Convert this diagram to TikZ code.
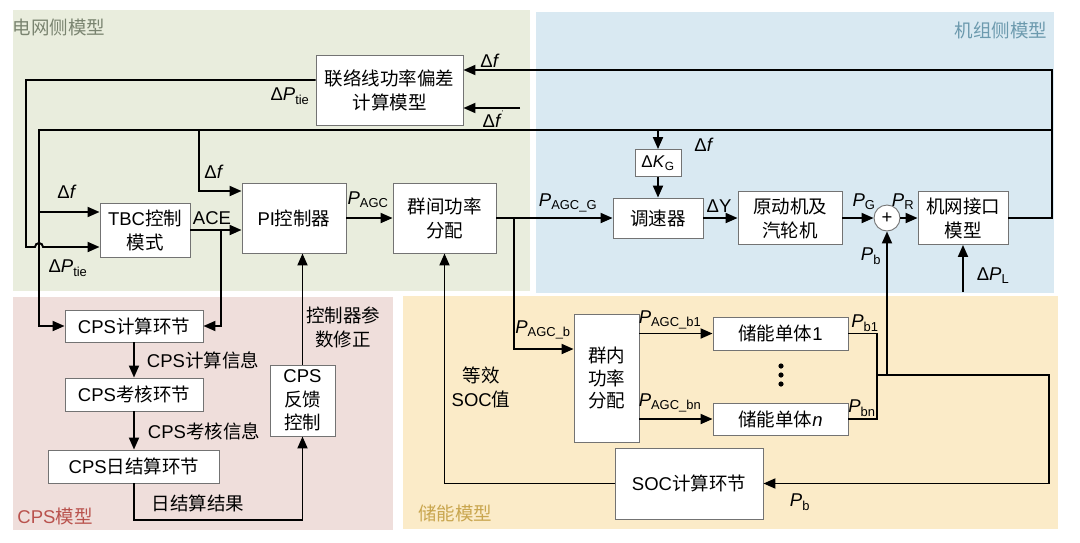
\documentclass[tikz,border=0pt]{standalone}
\usepackage{fontspec}
\setmainfont{Liberation Sans}
\newfontfamily\cjk{Noto Sans CJK SC}
\usetikzlibrary{arrows.meta}
\newcommand\zh[1]{{\cjk #1}}
\newcommand\vP{\textit{P}}
\newcommand\vf{\textit{f}}
\newcommand\sbs[1]{\textsubscript{#1}}
\definecolor{gridc}{HTML}{E9EDDD}
\definecolor{unitc}{HTML}{D9E9F2}
\definecolor{cpsc}{HTML}{EFDEDB}
\definecolor{storc}{HTML}{FBEBC8}
\definecolor{gridt}{HTML}{7A8470}
\definecolor{unitt}{HTML}{6C9AAE}
\definecolor{cpst}{HTML}{B9524D}
\definecolor{stort}{HTML}{C9A64F}
\tikzset{
  blk/.style={draw=black!55, line width=0.9pt, fill=white, inner sep=0pt, align=center},
  arr/.style={line width=1.9pt, -{Triangle[length=12pt,width=10pt]}},
  ln/.style={line width=1.9pt},
  lbl/.style={inner sep=0pt, align=center},
  region/.style={inner sep=0pt}
}
\begin{document}
\begin{tikzpicture}[x=1pt,y=-1pt,font=\fontsize{18.5}{24}\selectfont]
\useasboundingbox (0,0) rectangle (1080,542);
% regions
\fill[gridc] (13,10) rectangle (530,291);
\fill[unitc] (536,12) rectangle (1054,293);
\fill[cpsc] (13,297) rectangle (393,530);
\fill[storc] (403,296) rectangle (1058,529);
\node[region,text=gridt] (rg) at (59,27) {\zh{电网侧模型}};
\node[region,text=unitt] (ru) at (1001,30) {\zh{机组侧模型}};
\node[region,text=cpst] (rc) at (55,516) {CPS\zh{模型}};
\node[region,text=stort] (rs) at (455,513) {\zh{储能模型}};
% blocks
\node[blk, minimum width=147pt, minimum height=70pt] (tie) at (389.5,90) {\zh{联络线功率偏差}\\\zh{计算模型}};
\node[blk, minimum width=90pt, minimum height=54pt] (tbc) at (145,230) {TBC\zh{控制}\\\zh{模式}};
\node[blk, minimum width=104pt, minimum height=70pt] (pi) at (294,218) {PI\zh{控制器}};
\node[blk, minimum width=103pt, minimum height=70pt] (qj) at (444.5,218) {\zh{群间功率}\\\zh{分配}};
\node[blk, minimum width=90pt, minimum height=40pt] (tsq) at (658,218) {\zh{调速器}};
\node[blk, minimum width=46pt, minimum height=27pt, font=\fontsize{17}{20}\selectfont] (dk) at (658,163) {Δ\textit{K}\sbs{G}};
\node[blk, minimum width=104pt, minimum height=53pt] (ydj) at (790,218) {\zh{原动机及}\\\zh{汽轮机}};
\node[draw=black!55, line width=0.9pt, fill=white, circle, minimum size=26pt, inner sep=0pt] (sum) at (887,218) {+};
\node[blk, minimum width=90pt, minimum height=53pt] (jw) at (963,218) {\zh{机网接口}\\\zh{模型}};
\node[blk, minimum width=138pt, minimum height=32pt] (cps1) at (134,326) {CPS\zh{计算环节}};
\node[blk, minimum width=138pt, minimum height=33pt] (cps2) at (134,394.5) {CPS\zh{考核环节}};
\node[blk, minimum width=171pt, minimum height=33pt] (cps3) at (134,466.5) {CPS\zh{日结算环节}};
\node[blk, minimum width=65pt, minimum height=71pt, font=\fontsize{18.5}{23.5}\selectfont] (cpsf) at (302.5,400.5) {CPS\\\zh{反馈}\\\zh{控制}};
\node[blk, minimum width=65pt, minimum height=128pt, font=\fontsize{18.5}{22.5}\selectfont] (qn) at (606.5,378) {\zh{群内}\\\zh{功率}\\\zh{分配}};
\node[blk, minimum width=135pt, minimum height=33pt] (cn1) at (780.5,333.5) {\zh{储能单体}1};
\node[blk, minimum width=135pt, minimum height=32pt] (cnn) at (780.5,419) {\zh{储能单体}\textit{n}};
\node[blk, minimum width=148pt, minimum height=71pt] (soc) at (689,483.5) {SOC\zh{计算环节}};
% dots
\fill (781,366) circle[radius=2.6pt] (781,375) circle[radius=2.6pt] (781,384) circle[radius=2.6pt];
% coordinates
\coordinate (rt) at (1052,70);
\coordinate (rm) at (1052,130);
\coordinate (fa) at (520,108);
\coordinate (pl) at (963,292);
\coordinate (jb) at (877,375);
\coordinate (jp) at (887,375);
\coordinate (jr) at (1049,375);
\coordinate (bt) at (134,520);
% connectors
\draw[arr] (jw.east) -| (rt) -- (tie.east |- rt);
\draw[arr] (fa) -- (tie.east |- fa);
\draw[ln] (jw.east -| rm) -- (rm);
\draw[arr] (rm) -- (39,130) |- (cps1.west);
\draw[arr] (tie.west |- 0,80) -- (26,80) -- (26,247) -- (35,247) arc[start angle=180,end angle=0,radius=4pt] -- (tbc.west |- 0,247);
\draw[arr] (39,212) -- (tbc.west |- 0,212);
\draw[arr] (199,130) |- (pi.west |- 0,191);
\draw[arr] (658,130) -- (dk.north);
\draw[arr] (tbc.east |- 0,230) -- (pi.west |- 0,230);
\draw[arr] (221,230) |- (cps1.east);
\draw[arr] (pi) -- (qj);
\draw[arr] (qj) -- (tsq);
\draw[arr] (514,218) |- (qn.west |- 0,349);
\draw[arr] (dk) -- (tsq);
\draw[arr] (tsq) -- (ydj);
\draw[arr] (ydj) -- (sum);
\draw[arr] (sum) -- (jw);
\draw[arr] (pl) -- (jw.south);
\draw[arr] (qn.east |- cn1.west) -- (cn1.west);
\draw[arr] (qn.east |- cnn.west) -- (cnn.west);
\draw[ln] (cn1.east) -| (jb) |- (cnn.east);
\draw[arr] (jb) -- (jr) |- (soc.east);
\draw[arr] (jp) -- (sum.south);
\draw[arr] (soc.west) -| (qj.south);
\draw[arr] (cps1) -- (cps2);
\draw[arr] (cps2) -- (cps3);
\draw[arr] (cps3.south) -- (bt) -| (cpsf.south);
\draw[arr] (cpsf.north) -- (cpsf.north |- pi.south);
% labels
\node[lbl] (l1) at (490,61) {Δ\vf};
\node[lbl] (l2) at (493,119) {Δ\vf\raisebox{1.2ex}{\scriptsize'}};
\node[lbl] (l3) at (290,96) {Δ\vP\sbs{tie}};
\node[lbl] (l4) at (214,172) {Δ\vf};
\node[lbl] (l5) at (67,192) {Δ\vf};
\node[lbl] (l6) at (68,268) {Δ\vP\sbs{tie}};
\node[lbl] (l7) at (212,218) {ACE};
\node[lbl] (l8) at (368,200) {\vP\sbs{AGC}};
\node[lbl] (l9) at (568,203) {\vP\sbs{AGC\_G}};
\node[lbl] (l10) at (704,145) {Δ\vf};
\node[lbl] (l11) at (719,206) {ΔY};
\node[lbl] (l12) at (864,202) {\vP\sbs{G}};
\node[lbl] (l13) at (903,202) {\vP\sbs{R}};
\node[lbl] (l14) at (871,256) {\vP\sbs{b}};
\node[lbl] (l15) at (993,276) {Δ\vP\sbs{L}};
\node[lbl] (l16) at (543,330) {\vP\sbs{AGC\_b}};
\node[lbl] (l17) at (670,320) {\vP\sbs{AGC\_b1}};
\node[lbl] (l18) at (670,403) {\vP\sbs{AGC\_bn}};
\node[lbl] (l19) at (481,387) {\zh{等效}\\SOC\zh{值}};
\node[lbl] (l20) at (865,323) {\vP\sbs{b1}};
\node[lbl] (l21) at (862,408) {\vP\sbs{bn}};
\node[lbl] (l22) at (800,502) {\vP\sbs{b}};
\node[lbl] (l23) at (203,360) {CPS\zh{计算信息}};
\node[lbl] (l24) at (204,431) {CPS\zh{考核信息}};
\node[lbl] (l25) at (198,503) {\zh{日结算结果}};
\node[lbl] (l26) at (343,327) {\zh{控制器参}\\\zh{数修正}};
\end{tikzpicture}
\end{document}
